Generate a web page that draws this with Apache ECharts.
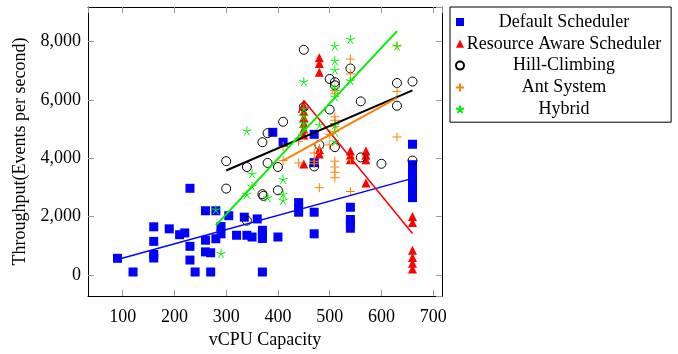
<!DOCTYPE html>
<html><head><meta charset="utf-8">
<script src="https://cdn.jsdelivr.net/npm/echarts@6/dist/echarts.min.js"></script>
<style>html,body{margin:0;padding:0;background:#fff}#c{width:678px;height:354px}</style>
</head><body><div id="c"></div>
<script>
const seriesNames = ['Default Scheduler','Resource Aware Scheduler','Hill-Climbing','Ant System','Hybrid'];
const xTicks = [100,200,300,400,500,600,700];
const yTicks = [0,2000,4000,6000,8000];

const defaultSched = [[90,570],[120,100],[160,1650],[160,1150],[160,700],[160,580],[190,1580],[210,1380],[220,1440],[230,2970],[230,980],[230,510],[240,100],[260,2200],[260,1190],[260,790],[270,100],[270,760],[280,2200],[280,1240],[290,1660],[290,1410],[305,2030],[320,1360],[335,1980],[340,1360],[350,1300],[360,1920],[370,1530],[370,1400],[370,1250],[370,100],[400,1300],[440,2480],[440,2300],[440,2150],[470,2150],[470,1410],[390,4890],[410,4550],[470,4820],[470,3850],[540,2320],[540,1900],[540,1750],[540,1600],[660,4480],[660,3780],[660,3600],[660,3400],[660,3200],[660,3000],[660,2800],[660,2650]];
const resourceAware = [[450,5800],[450,5600],[450,5400],[450,5200],[450,5000],[450,4800],[450,3800],[480,7450],[480,7250],[480,6950],[480,4300],[480,4150],[540,4250],[540,4100],[540,3950],[570,4250],[570,4100],[570,3950],[570,3150],[660,2000],[660,1800],[660,850],[660,600],[660,400],[660,200]];
const hillClimbing = [[450,7720],[410,5250],[380,4860],[370,4550],[300,3900],[340,3700],[380,3840],[400,3700],[300,2960],[370,2770],[372,2710],[400,2900],[340,1860],[450,5760],[480,4460],[470,3720],[540,7080],[500,6720],[510,6610],[510,6500],[560,5950],[500,5670],[510,4380],[560,4030],[600,3810],[630,6580],[660,6630],[630,5800],[660,3920]];
const antSystem = [[440,4690],[440,4580],[410,4410],[410,3920],[440,3840],[470,4180],[470,3900],[480,4330],[480,2990],[540,7400],[540,6890],[510,6320],[510,6210],[510,5420],[510,5300],[510,5190],[510,5080],[500,4820],[500,4460],[470,3810],[510,3900],[510,3700],[510,3520],[510,3330],[540,3950],[540,2860],[630,7850],[630,6290],[630,4730]];
const hybrid = [[450,6630],[340,4940],[350,3470],[410,3280],[350,3040],[340,2770],[380,2650],[410,2770],[410,2560],[450,5700],[450,5450],[450,5200],[450,5030],[480,5140],[290,740],[540,8080],[510,7850],[510,7340],[510,7030],[510,6400],[510,6100],[540,6660],[510,5140],[510,4900],[510,4580],[630,7850],[280,2240]];

const trendDefault = [[90,530],[660,3310]];
const trendResource = [[440,5550],[450,5980],[660,1420]];
const trendHill = [[300,3580],[660,6330]];
const trendAnt = [[410,3920],[630,6070]];
const trendHybrid = [[280,1700],[630,8360]];

const FONT = 'Liberation Serif';
const plusPath = 'path://M5,0L5,10M0,5L10,5';
const starPath = 'path://M5,0L5,5M9.76,3.45L5,5M7.94,9.05L5,5M2.06,9.05L5,5M0.24,3.45L5,5';

const chart = echarts.init(document.getElementById('c'), null, {renderer:'canvas'});
const axisCommon = {
  axisLine:{show:true,onZero:false,lineStyle:{color:'#000',width:1}},
  axisTick:{show:true,inside:true,length:6,lineStyle:{color:'#999',width:1}},
  splitLine:{show:false}
};
function sc(name, data, symbol, size, style, z){
  return {name, type:'scatter', data, symbol, symbolSize:size, itemStyle:Object.assign({opacity:1},style), z, emphasis:{disabled:true}};
}
function ln(data, color, w, z){
  return {type:'line', data, symbol:'none', lineStyle:{color, width:w}, z, silent:true, animation:false};
}
chart.setOption({
  animation:false,
  grid:{left:88,right:236,top:7,bottom:55,containLabel:false},
  xAxis:[
    Object.assign({type:'value',min:33,max:717,splitNumber:7,position:'bottom',
      name:'vCPU Capacity',nameLocation:'middle',nameGap:33,
      nameTextStyle:{fontFamily:FONT,fontSize:18,color:'#000'},
      axisLabel:{fontFamily:FONT,fontSize:18,color:'#000',margin:12,showMinLabel:false,showMaxLabel:false,
        formatter:v=>xTicks.includes(v)?String(v):''}}, axisCommon),
    Object.assign({type:'value',min:33,max:717,splitNumber:7,position:'top',axisLabel:{show:false}}, axisCommon)
  ],
  yAxis:[
    Object.assign({type:'value',min:-726,max:9186,splitNumber:5,position:'left',
      name:'Throughput(Events per second)',nameLocation:'middle',nameGap:54,
      nameTextStyle:{fontFamily:FONT,fontSize:18,color:'#000'},
      axisLabel:{fontFamily:FONT,fontSize:18,color:'#000',margin:7,showMinLabel:false,showMaxLabel:false,
        formatter:v=>yTicks.includes(v)?v.toLocaleString('en-US'):''}}, axisCommon),
    Object.assign({type:'value',min:-726,max:9186,splitNumber:5,position:'right',axisLabel:{show:false}}, axisCommon)
  ],
  legend:{
    orient:'vertical',left:450,top:7,padding:[6,10,4,5],itemGap:3.8,
    itemWidth:8,itemHeight:8,
    backgroundColor:'#fff',borderColor:'#000',borderWidth:1,borderRadius:0,
    data:seriesNames,
    formatter:n=>'{t|'+n+'}',
    textStyle:{fontFamily:FONT,fontSize:18,color:'#000',
      rich:{t:{width:190,align:'center',fontFamily:FONT,fontSize:18,lineHeight:20,color:'#000'}}}
  },
  series:[
    sc(seriesNames[0], defaultSched, 'rect', 9, {color:'#0000ff'}, 2),
    sc(seriesNames[1], resourceAware, 'triangle', 9, {color:'#ff0000'}, 3),
    sc(seriesNames[2], hillClimbing, 'circle', 9, {color:'rgba(0,0,0,0)',borderColor:'#000',borderWidth:1}, 4),
    sc(seriesNames[3], antSystem, plusPath, 9, {color:'#ff8000',borderColor:'#ff8000',borderWidth:1}, 5),
    sc(seriesNames[4], hybrid, starPath, 9, {color:'#00f000',borderColor:'#00f000',borderWidth:1}, 6),
    ln(trendDefault,'#0000ff',1.5,7),
    ln(trendResource,'#ff0000',1.5,7),
    ln(trendHill,'#000',2,7),
    ln(trendAnt,'#ff8000',2,7),
    ln(trendHybrid,'#00f000',2,7)
  ]
});
</script></body></html>
